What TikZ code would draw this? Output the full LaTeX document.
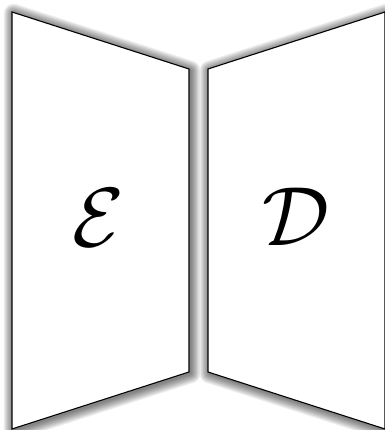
\documentclass[tikz,border=0pt]{standalone}
\begin{document}
\begin{tikzpicture}[x=1pt,y=1pt,
  panel/.style={draw=black,line width=1.1pt,fill=white,line join=miter},
  shade/.style={draw=black,line join=round,opacity=0.055},
  letter/.style={inner sep=0pt,scale=8.4,transform shape}]
\useasboundingbox (0,0) rectangle (384,430);
\fill[white] (0,0) rectangle (384,430);
\def\lpanel{(12,418) -- (189,361) -- (189,58) -- (12,1) -- cycle}
\def\rpanel{(208,361) -- (385,418) -- (385,1) -- (208,58) -- cycle}
\begin{scope}[xshift=1.5pt,yshift=-1.5pt]
\foreach \w in {1,...,11}{
  \draw[shade,line width=1.8*\w pt] (12,418) -- (189,361) -- (189,58) -- (12,1) -- cycle;
  \draw[shade,line width=1.8*\w pt] (208,361) -- (385,418) -- (385,1) -- (208,58) -- cycle;
}
\end{scope}
\path[panel] (12,418) -- (189,361) -- (189,58) -- (12,1) -- cycle;
\path[panel] (208,361) -- (385,418) -- (385,1) -- (208,58) -- cycle;
\node[letter] (enc) at (98,212) {$\mathcal{E}$};
\node[letter] (dec) at (296,213) {$\mathcal{D}$};
\end{tikzpicture}
\end{document}
